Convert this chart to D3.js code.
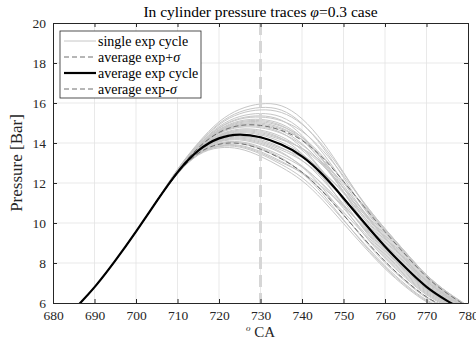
<!DOCTYPE html>
<html>
<head>
<meta charset="utf-8">
<script src="https://cdn.jsdelivr.net/npm/d3@7"></script>
<style>
  body { margin: 0; background: #fff; }
  svg { font-family: "Liberation Serif", "DejaVu Serif", serif; }
  .grid line { stroke: #e3e3e3; stroke-width: 0.8; }
  .axis path, .axis line { stroke: #262626; }
  .axis text { fill: #262626; font-size: 13.5px; font-family: "Liberation Serif", serif; }
</style>
</head>
<body>
<div id="chart"></div>
<script>
// crank angle grid shared by every trace
var caComp = [686, 690, 695, 700, 705];
var pComp = [5.88, 6.75, 8.1, 9.55, 11.1];
var caComb = [710, 715, 720, 725, 730, 735, 740, 745, 750, 755, 760, 765, 770, 775, 780];

// single experimental cycles (combustion part, after 705 CA)
var cycles = [
  [12.74, 14.04, 15.14, 15.74, 16.0, 15.97, 15.3, 14.11, 12.55, 10.88, 9.63, 8.47, 7.3, 6.49, 5.83],
  [12.72, 13.98, 14.99, 15.52, 15.7, 15.61, 15.02, 13.94, 12.5, 10.96, 9.7, 8.53, 7.35, 6.52, 5.86],
  [12.7, 13.94, 14.9, 15.38, 15.52, 15.39, 14.72, 13.56, 12.06, 10.48, 9.25, 8.14, 7.05, 6.31, 5.68],
  [12.69, 13.9, 14.81, 15.25, 15.34, 15.17, 14.66, 13.68, 12.38, 10.96, 9.7, 8.53, 7.35, 6.52, 5.86],
  [12.68, 13.88, 14.75, 15.16, 15.22, 15.03, 14.36, 13.22, 11.76, 10.24, 9.03, 7.95, 6.9, 6.21, 5.59],
  [12.67, 13.86, 14.69, 15.07, 15.1, 14.89, 14.36, 13.39, 12.1, 10.72, 9.48, 8.34, 7.2, 6.42, 5.77],
  [12.66, 13.83, 14.63, 14.98, 14.98, 14.74, 14.25, 13.34, 12.1, 10.8, 9.55, 8.4, 7.25, 6.45, 5.8],
  [12.65, 13.82, 14.6, 14.93, 14.92, 14.67, 14.04, 12.96, 11.59, 10.16, 8.95, 7.88, 6.85, 6.17, 5.56],
  [12.64, 13.8, 14.54, 14.84, 14.8, 14.53, 13.98, 13.0, 11.74, 10.4, 9.18, 8.08, 7.0, 6.28, 5.65],
  [12.63, 13.77, 14.48, 14.75, 14.68, 14.38, 13.72, 12.62, 11.25, 9.84, 8.65, 7.62, 6.65, 6.03, 5.44],
  [12.62, 13.75, 14.42, 14.66, 14.56, 14.24, 13.78, 12.92, 11.78, 10.56, 9.33, 8.21, 7.1, 6.35, 5.71],
  [12.61, 13.72, 14.36, 14.57, 14.44, 14.09, 13.52, 12.54, 11.29, 10.0, 8.8, 7.75, 6.75, 6.1, 5.5],
  [12.6, 13.7, 14.3, 14.48, 14.32, 13.95, 13.48, 12.62, 11.5, 10.32, 9.1, 8.01, 6.95, 6.24, 5.62],
  [12.59, 13.68, 14.24, 14.39, 14.2, 13.81, 13.2, 12.2, 10.95, 9.68, 8.5, 7.49, 6.55, 5.96, 5.38],
  [12.58, 13.65, 14.18, 14.3, 14.08, 13.66, 13.18, 12.32, 11.23, 10.08, 8.88, 7.82, 6.8, 6.14, 5.53],
  [12.57, 13.63, 14.12, 14.21, 13.96, 13.52, 12.92, 11.94, 10.74, 9.52, 8.35, 7.36, 6.45, 5.89, 5.32],
  [12.56, 13.6, 14.06, 14.12, 13.84, 13.37, 12.86, 11.98, 10.89, 9.76, 8.58, 7.56, 6.6, 5.99, 5.41],
  [12.55, 13.58, 14.0, 14.03, 13.72, 13.23, 12.6, 11.6, 10.4, 9.2, 8.05, 7.1, 6.25, 5.75, 5.2],
  [12.54, 13.56, 13.94, 13.94, 13.6, 13.09, 12.54, 11.64, 10.55, 9.44, 8.28, 7.3, 6.4, 5.86, 5.29],
  [12.53, 13.53, 13.88, 13.85, 13.48, 12.94, 12.34, 11.33, 10.13, 8.96, 7.83, 6.9, 6.1, 5.65, 5.11],
  [12.52, 13.51, 13.82, 13.76, 13.36, 12.8, 12.18, 11.17, 9.97, 8.8, 7.68, 6.78, 6.0, 5.58, 5.05],
  [12.56, 13.59, 14.03, 14.08, 13.78, 13.3, 12.58, 11.47, 10.17, 8.88, 7.75, 6.84, 6.05, 5.61, 5.08],
  [12.63, 13.76, 14.45, 14.7, 14.62, 14.31, 13.54, 12.32, 10.85, 9.36, 8.2, 7.23, 6.35, 5.82, 5.26],
  [12.69, 13.92, 14.84, 15.29, 15.4, 15.25, 14.46, 13.17, 11.57, 9.92, 8.73, 7.69, 6.7, 6.07, 5.47],
  [12.73, 14.0, 15.05, 15.61, 15.82, 15.75, 15.06, 13.85, 12.29, 10.64, 9.4, 8.27, 7.15, 6.38, 5.74],
  [12.65, 13.81, 14.57, 14.89, 14.86, 14.6, 13.84, 12.62, 11.12, 9.6, 8.43, 7.43, 6.5, 5.93, 5.35],
  [12.59, 13.66, 14.21, 14.35, 14.14, 13.73, 13.34, 12.58, 11.57, 10.48, 9.25, 8.14, 7.05, 6.31, 5.68],
  [12.54, 13.54, 13.91, 13.9, 13.54, 13.01, 12.58, 11.81, 10.85, 9.84, 8.65, 7.62, 6.65, 6.03, 5.44],
  [12.67, 13.87, 14.72, 15.11, 15.16, 14.96, 14.24, 13.05, 11.55, 10.0, 8.8, 7.75, 6.75, 6.1, 5.5],
  [12.62, 13.74, 14.39, 14.62, 14.5, 14.17, 13.8, 13.05, 12.02, 10.88, 9.63, 8.47, 7.3, 6.49, 5.83],
  [12.58, 13.64, 14.15, 14.26, 14.02, 13.59, 12.88, 11.77, 10.44, 9.12, 7.98, 7.04, 6.2, 5.72, 5.17],
  [12.66, 13.84, 14.66, 15.02, 15.04, 14.81, 14.24, 13.22, 11.89, 10.48, 9.25, 8.14, 7.05, 6.31, 5.68]
];

var avgExp = [12.6, 13.7, 14.3, 14.48, 14.32, 13.95, 13.4, 12.45, 11.25, 10.0, 8.8, 7.75, 6.75, 6.1, 5.5];
var avgPlus = [12.65, 13.82, 14.6, 14.93, 14.92, 14.67, 14.2, 13.3, 12.1, 10.8, 9.55, 8.4, 7.25, 6.45, 5.8];
var avgMinus = [12.55, 13.58, 14.0, 14.03, 13.72, 13.23, 12.6, 11.6, 10.4, 9.2, 8.05, 7.1, 6.25, 5.75, 5.2];

var xTicks = [680, 690, 700, 710, 720, 730, 740, 750, 760, 770, 780];
var yTicks = [6, 8, 10, 12, 14, 16, 18, 20];
var tdcLine = 730;

function init() {
    var width = 476;
    var height = 340;
    var margin = { top: 23, right: 8, bottom: 37, left: 53 };
    var w = width - margin.left - margin.right;
    var h = height - margin.top - margin.bottom;
    var serif = "Liberation Serif, DejaVu Serif, serif";

    var svg = d3.select("#chart")
        .append("svg")
        .attr("width", width)
        .attr("height", height);

    var x = d3.scaleLinear().domain([680, 780]).range([0, w]);
    var y = d3.scaleLinear().domain([6, 20]).range([h, 0]);

    var g = svg.append("g")
        .attr("transform", "translate(" + margin.left + "," + margin.top + ")");

    g.append("defs").append("clipPath")
        .attr("id", "plotclip")
        .append("rect")
        .attr("width", w)
        .attr("height", h);

    // grid
    var grid = g.append("g").attr("class", "grid");
    grid.selectAll(".gx").data(xTicks.slice(1, -1)).enter()
        .append("line")
        .attr("x1", d => x(d)).attr("x2", d => x(d))
        .attr("y1", 0).attr("y2", h);
    grid.selectAll(".gy").data(yTicks.slice(1, -1)).enter()
        .append("line")
        .attr("y1", d => y(d)).attr("y2", d => y(d))
        .attr("x1", 0).attr("x2", w);

    // build full traces
    function trace(vals) {
        var pts = caComp.map((c, i) => [c, pComp[i]]);
        return pts.concat(caComb.map((c, i) => [c, vals[i]]));
    }

    var line = d3.line()
        .x(d => x(d[0]))
        .y(d => y(d[1]))
        .curve(d3.curveBasis);

    var plot = g.append("g").attr("clip-path", "url(#plotclip)");

    plot.selectAll(".cycle")
        .data(cycles)
        .enter()
        .append("path")
        .attr("class", "cycle")
        .attr("d", d => line(trace(d)))
        .attr("fill", "none")
        .attr("stroke", "#c6c6c6")
        .attr("stroke-width", 1);

    // TDC marker
    plot.append("line")
        .attr("x1", x(tdcLine)).attr("x2", x(tdcLine))
        .attr("y1", 0).attr("y2", h)
        .attr("stroke", "#d6d6d6")
        .attr("stroke-width", 3)
        .attr("stroke-dasharray", "12,6");

    plot.append("path")
        .attr("d", line(trace(avgPlus)))
        .attr("fill", "none")
        .attr("stroke", "#6e6e6e")
        .attr("stroke-width", 1)
        .attr("stroke-dasharray", "5,3");

    plot.append("path")
        .attr("d", line(trace(avgMinus)))
        .attr("fill", "none")
        .attr("stroke", "#6e6e6e")
        .attr("stroke-width", 1)
        .attr("stroke-dasharray", "5,3");

    plot.append("path")
        .attr("d", line(trace(avgExp)))
        .attr("fill", "none")
        .attr("stroke", "#000")
        .attr("stroke-width", 2.2);

    // axes (ticks inside, box)
    g.append("g").attr("class", "axis").attr("font-family", serif)
        .attr("transform", "translate(0," + h + ")")
        .call(d3.axisBottom(x).tickValues(xTicks).tickSizeInner(-4).tickSizeOuter(0).tickPadding(7));
    g.append("g").attr("class", "axis")
        .call(d3.axisTop(x).tickValues(xTicks).tickSizeInner(-4).tickSizeOuter(0).tickFormat(""));
    g.append("g").attr("class", "axis").attr("font-family", serif)
        .call(d3.axisLeft(y).tickValues(yTicks).tickSizeInner(-4).tickSizeOuter(0).tickPadding(7));
    g.append("g").attr("class", "axis")
        .attr("transform", "translate(" + w + ",0)")
        .call(d3.axisRight(y).tickValues(yTicks).tickSizeInner(-4).tickSizeOuter(0).tickFormat(""));

    // title
    var title = svg.append("text")
        .attr("x", margin.left + w / 2)
        .attr("y", 17)
        .attr("text-anchor", "middle")
        .attr("font-family", serif)
        .attr("font-size", 15.5)
        .attr("fill", "#000");
    title.append("tspan").text("In cylinder pressure traces ");
    title.append("tspan").attr("font-style", "italic").text("φ");
    title.append("tspan").text("=0.3 case");

    // x label
    var xl = svg.append("text")
        .attr("x", margin.left + w / 2)
        .attr("y", 337)
        .attr("text-anchor", "middle")
        .attr("font-family", serif)
        .attr("font-size", 15)
        .attr("fill", "#262626");
    xl.append("tspan").attr("font-style", "italic").attr("font-size", 9).attr("dy", -6).text("o");
    xl.append("tspan").attr("dy", 6).text(" CA");

    // y label
    svg.append("text")
        .attr("transform", "translate(22," + (margin.top + h / 2) + ") rotate(-90)")
        .attr("text-anchor", "middle")
        .attr("font-family", serif)
        .attr("font-size", 17)
        .attr("fill", "#262626")
        .text("Pressure [Bar]");

    // legend
    var legend = [
        { label: "single exp cycle", sigma: false, color: "#c6c6c6", width: 1, dash: null },
        { label: "average exp+", sigma: true, color: "#6e6e6e", width: 1, dash: "5,3" },
        { label: "average exp cycle", sigma: false, color: "#000", width: 2.2, dash: null },
        { label: "average exp-", sigma: true, color: "#6e6e6e", width: 1, dash: "5,3" }
    ];
    var lg = svg.append("g").attr("transform", "translate(60,31)");
    lg.append("rect")
        .attr("width", 141).attr("height", 67)
        .attr("fill", "#fff")
        .attr("stroke", "#262626")
        .attr("stroke-width", 0.8);
    var items = lg.selectAll(".item").data(legend).enter()
        .append("g")
        .attr("transform", (d, i) => "translate(0," + (10 + i * 16) + ")");
    items.append("line")
        .attr("x1", 4).attr("x2", 36)
        .attr("stroke", d => d.color)
        .attr("stroke-width", d => d.width)
        .attr("stroke-dasharray", d => d.dash);
    var lt = items.append("text")
        .attr("x", 38).attr("y", 4.5)
        .attr("font-family", serif)
        .attr("font-size", 14)
        .attr("fill", "#000");
    lt.append("tspan").text(d => d.label);
    lt.filter(d => d.sigma).append("tspan").attr("font-style", "italic").text("σ");
}

window.onload = init;
</script>
</body>
</html>
